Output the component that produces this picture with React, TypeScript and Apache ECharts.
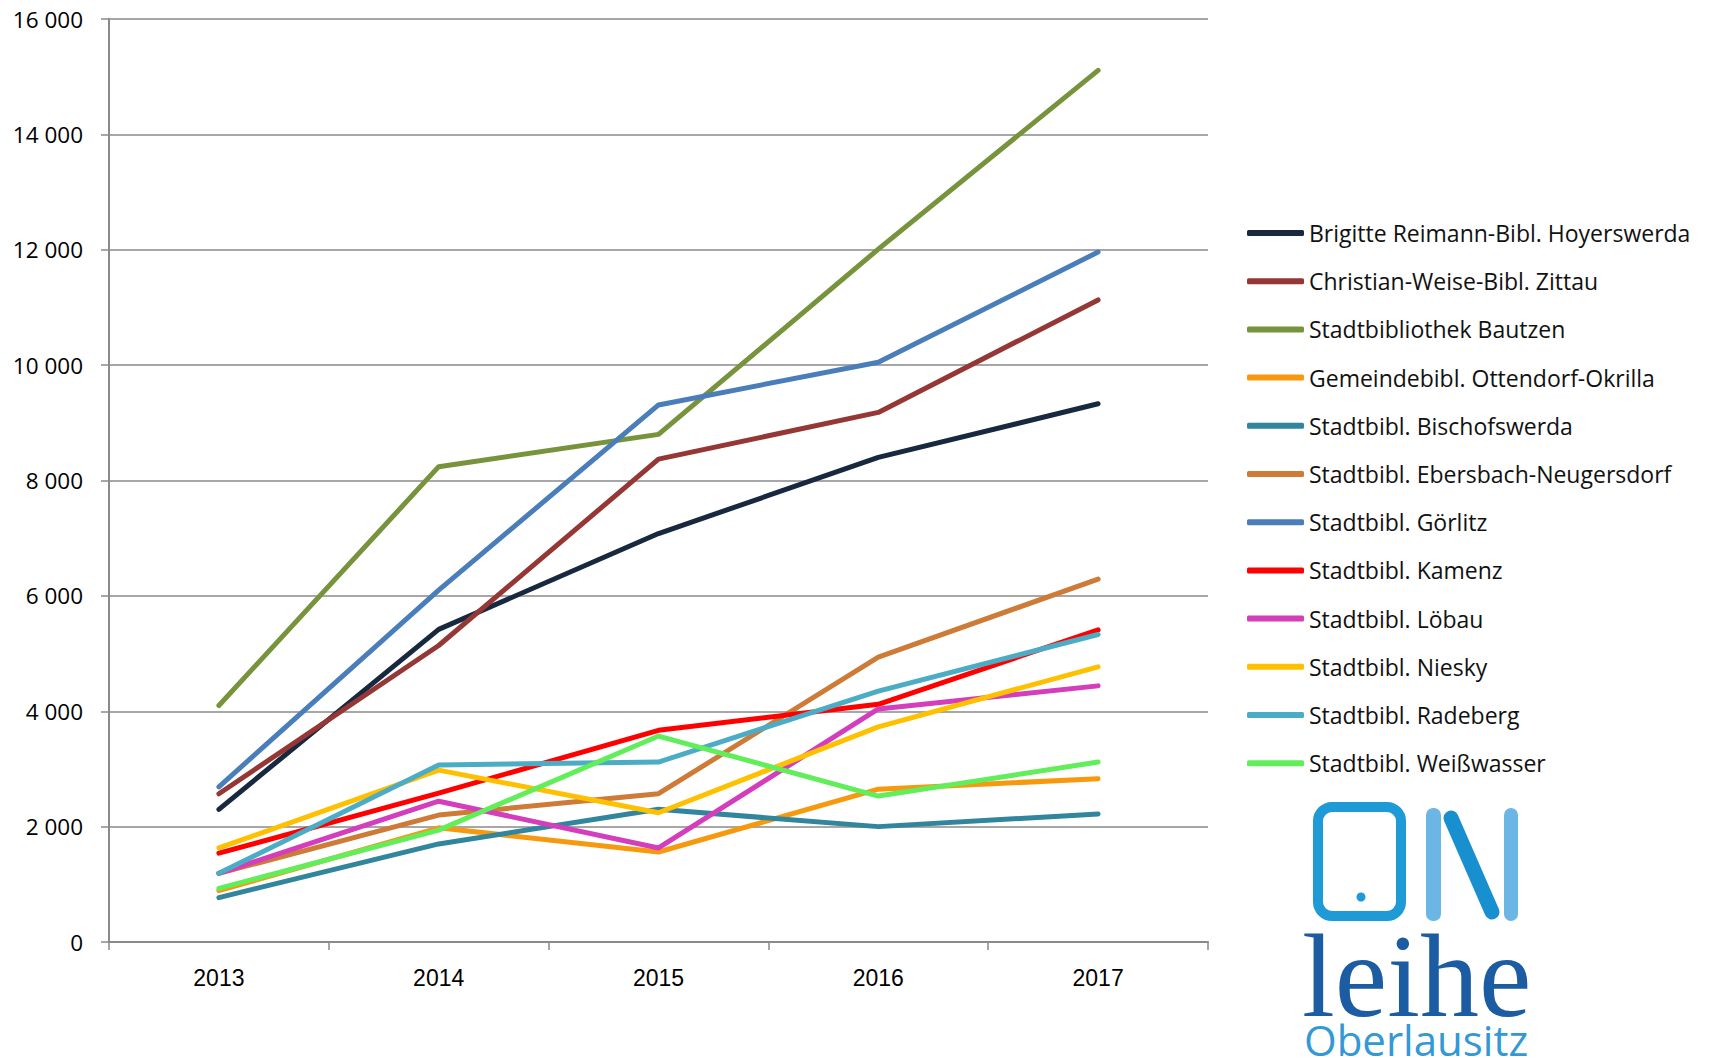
import React, { useEffect, useRef } from "react";
import * as echarts from "echarts";

const years = ["2013", "2014", "2015", "2016", "2017"];

const seriesNames = [
  "Brigitte Reimann-Bibl. Hoyerswerda",
  "Christian-Weise-Bibl. Zittau",
  "Stadtbibliothek Bautzen",
  "Gemeindebibl. Ottendorf-Okrilla",
  "Stadtbibl. Bischofswerda",
  "Stadtbibl. Ebersbach-Neugersdorf",
  "Stadtbibl. Görlitz",
  "Stadtbibl. Kamenz",
  "Stadtbibl. Löbau",
  "Stadtbibl. Niesky",
  "Stadtbibl. Radeberg",
  "Stadtbibl. Weißwasser",
];

const hoyerswerda = [2300, 5420, 7080, 8400, 9330];
const zittau = [2570, 5140, 8370, 9180, 11130];
const bautzen = [4100, 8240, 8800, 12010, 15110];
const ottendorf = [890, 1980, 1560, 2650, 2830];
const bischofswerda = [770, 1700, 2300, 2000, 2220];
const ebersbach = [1190, 2200, 2570, 4940, 6290];
const goerlitz = [2690, 6100, 9310, 10050, 11960];
const kamenz = [1540, 2580, 3670, 4120, 5410];
const loebau = [1190, 2440, 1630, 4040, 4440];
const niesky = [1630, 2980, 2240, 3730, 4770];
const radeberg = [1190, 3070, 3120, 4350, 5330];
const weisswasser = [930, 1940, 3570, 2530, 3120];

const seriesValues = [
  hoyerswerda, zittau, bautzen, ottendorf, bischofswerda, ebersbach,
  goerlitz, kamenz, loebau, niesky, radeberg, weisswasser,
];

const seriesColors = [
  "#17283f", "#953735", "#77933c", "#f7990f", "#31859c", "#cd7b36",
  "#4a7ebb", "#ff0000", "#d43dbb", "#ffc000", "#4bacc6", "#62ee5a",
];

export default function App() {
  const ref = useRef<HTMLDivElement>(null);
  useEffect(() => {
    if (!ref.current) return;
    const chart = echarts.init(ref.current, null, { renderer: "svg" });
    const gray = "#8a8a8a";
    chart.setOption({
      animation: false,
      backgroundColor: "#ffffff",
      grid: { left: 109, right: 501, top: 19, bottom: 116, containLabel: false },
      legend: {
        orient: "vertical",
        left: 1242,
        top: 216,
        icon: "roundRect",
        itemWidth: 57,
        itemHeight: 6,
        itemGap: 24.2,
        textStyle: {
          fontFamily: "Open Sans",
          fontSize: 23,
          lineHeight: 24,
          color: "#111111",
        },
        data: seriesNames,
      },
      xAxis: {
        type: "category",
        data: years,
        boundaryGap: true,
        axisLine: { show: true, lineStyle: { color: gray, width: 2 } },
        axisTick: { show: true, length: 8, lineStyle: { color: gray, width: 1.5 } },
        axisLabel: {
          margin: 24,
          fontFamily: "Liberation Sans",
          fontSize: 23,
          color: "#000000",
        },
        splitLine: { show: false },
      },
      yAxis: {
        type: "value",
        min: 0,
        max: 16000,
        interval: 2000,
        axisLine: { show: true, lineStyle: { color: gray, width: 2 } },
        axisTick: { show: true, length: 8, lineStyle: { color: gray, width: 1.5 } },
        axisLabel: {
          margin: 26,
          fontFamily: "Open Sans",
          fontSize: 22.5,
          color: "#000000",
          formatter: (v: number) =>
            String(v).replace(/\B(?=(\d{3})+(?!\d))/g, " "),
        },
        splitLine: { show: true, lineStyle: { color: gray, width: 1.5 } },
      },
      series: seriesNames.map((name, i) => ({
        name,
        type: "line",
        data: seriesValues[i],
        symbol: "none",
        showSymbol: false,
        color: seriesColors[i],
        lineStyle: { color: seriesColors[i], width: 5, cap: "round", join: "round" },
      })),
      graphic: [
        {
          type: "rect",
          shape: { x: 1318, y: 807, width: 83, height: 109, r: 14 },
          style: { fill: "none", stroke: "#1e9ad6", lineWidth: 10 },
        },
        {
          type: "circle",
          shape: { cx: 1361, cy: 897, r: 4.5 },
          style: { fill: "#1e9ad6" },
        },
        {
          type: "rect",
          shape: { x: 1426, y: 808, width: 15, height: 113, r: 7 },
          style: { fill: "#6cb6e6" },
        },
        {
          type: "rect",
          shape: { x: 1504, y: 808, width: 14, height: 113, r: 7 },
          style: { fill: "#6cb6e6" },
        },
        {
          type: "line",
          shape: { x1: 1451, y1: 818, x2: 1492, y2: 912 },
          style: { stroke: "#1890d0", lineWidth: 15, lineCap: "round" },
        },
        {
          type: "text",
          style: {
            x: 1302,
            y: 976,
            text: "leihe",
            fontFamily: "Liberation Serif",
            fontSize: 118,
            lineHeight: 80,
            fill: "#1b5ca2",
            verticalAlign: "middle",
            align: "left",
          },
        },
        {
          type: "text",
          style: {
            x: 1304,
            y: 1039,
            text: "Oberlausitz",
            fontFamily: "Open Sans",
            fontSize: 42,
            lineHeight: 32,
            fill: "#3398d6",
            verticalAlign: "middle",
            align: "left",
          },
        },
      ],
    });
    return () => chart.dispose();
  }, []);
  return (
    <div
      ref={ref}
      style={{ position: "absolute", left: 0, top: 0, width: 1709, height: 1058 }}
    />
  );
}
